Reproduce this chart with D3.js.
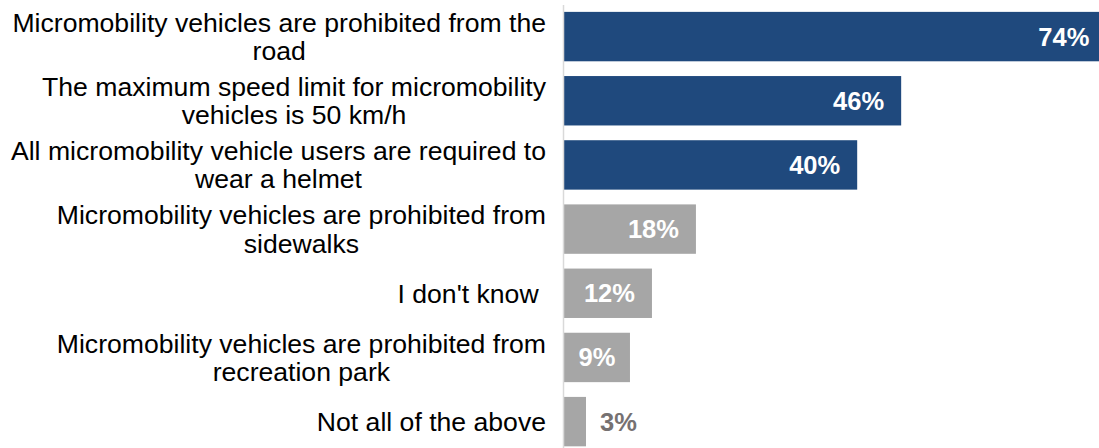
<!DOCTYPE html>
<html>
<head>
<meta charset="utf-8">
<script src="https://cdn.jsdelivr.net/npm/d3@7"></script>
<style>
  html, body { margin: 0; padding: 0; background: #ffffff; }
  svg { display: block; }
  text { font-family: "Liberation Sans", Arial, sans-serif; }
</style>
</head>
<body>
<svg id="chart" width="1099" height="448"></svg>
<script>
// Survey answers, top to bottom
const categories = [
  "Micromobility vehicles are prohibited from the road",
  "The maximum speed limit for micromobility vehicles is 50 km/h",
  "All micromobility vehicle users are required to wear a helmet",
  "Micromobility vehicles are prohibited from sidewalks",
  "I don't know ",
  "Micromobility vehicles are prohibited from recreation park",
  "Not all of the above"
];
// Share of respondents (%)
const values = [74, 46, 40, 18, 12, 9, 3];
// Highlighted (correct) answers are drawn in blue
const highlighted = [true, true, true, false, false, false, false];

const W = 1099, H = 448;
const axisX = 563.5;
const labelRight = 546;
const labelMaxWidth = 545;
const catFontSize = 26.6;
const valFontSize = 25.5;
const lineHeight = 28.5;

const svg = d3.select("#chart");

const x = d3.scaleLinear().domain([0, 74]).range([axisX + 0.5, 1106.4]);
const y = d3.scaleBand()
  .domain(categories)
  .range([4.5, 453.7])
  .paddingInner(0.23)
  .paddingOuter(0.115);

// Bars
svg.append("g").selectAll("rect")
  .data(categories)
  .join("rect")
  .attr("x", x(0))
  .attr("y", d => y(d))
  .attr("width", (d, i) => x(values[i]) - x(0))
  .attr("height", y.bandwidth())
  .attr("fill", (d, i) => highlighted[i] ? "#1F497D" : "#A6A6A6");

// Vertical category axis line
svg.append("line")
  .attr("x1", axisX).attr("x2", axisX)
  .attr("y1", 5).attr("y2", H)
  .attr("stroke", "#D9D9D9")
  .attr("stroke-width", 1.5);

// Category labels: wrapped, lines centred within the block, block right-aligned
const catG = svg.append("g");
categories.forEach(cat => {
  const g = catG.append("g");
  const words = cat.split(" ");
  const lines = [];
  let cur = "";
  const probe = g.append("text")
    .attr("font-size", catFontSize)
    .style("white-space", "pre");
  words.forEach(w => {
    const test = cur === "" ? w : cur + " " + w;
    probe.text(test);
    if (probe.node().getComputedTextLength() > labelMaxWidth && cur !== "") {
      lines.push(cur);
      cur = w;
    } else {
      cur = test;
    }
  });
  lines.push(cur);
  probe.remove();

  const tmp = g.selectAll("text.l")
    .data(lines)
    .join("text")
    .attr("class", "l")
    .attr("font-size", catFontSize)
    .attr("fill", "#000000")
    .style("white-space", "pre")
    .text(d => d);
  const widths = tmp.nodes().map(n => n.getComputedTextLength());
  const blockW = d3.max(widths);
  const cx = labelRight - blockW / 2;
  const cy = y(cat) + y.bandwidth() / 2;
  const n = lines.length;
  tmp.attr("text-anchor", "middle")
    .attr("x", cx)
    .attr("y", (d, i) => cy + (i - (n - 1) / 2) * lineHeight)
    .attr("dy", "0.35em");
});

// Value labels: inside the bar end when they fit, otherwise just past it
const valG = svg.append("g");
categories.forEach((cat, i) => {
  const v = values[i];
  const t = valG.append("text")
    .attr("font-size", valFontSize)
    .attr("font-weight", "bold")
    .attr("y", y(cat) + y.bandwidth() / 2)
    .attr("dy", "0.35em")
    .text(v + "%");
  const tw = t.node().getComputedTextLength();
  const barW = x(v) - x(0);
  if (barW >= tw + 20) {
    const endX = Math.max(x(v) - 17, x(0) + (barW + tw) / 2);
    t.attr("text-anchor", "end").attr("x", endX).attr("fill", "#FFFFFF");
  } else {
    t.attr("text-anchor", "start").attr("x", x(v) + 14).attr("fill", "#767171");
  }
});
</script>
</body>
</html>
